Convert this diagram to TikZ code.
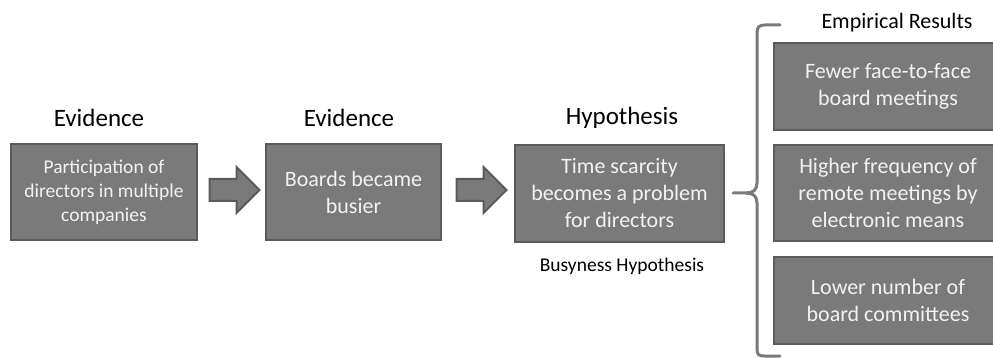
\documentclass[tikz,border=0pt]{standalone}
\usepackage{fontspec}
\setmainfont{Carlito}
\usetikzlibrary{shapes.arrows}

\definecolor{boxfill}{HTML}{7A7A7A}
\definecolor{boxline}{HTML}{5A5A5A}
\definecolor{boxtext}{HTML}{F2F2F2}

\begin{document}
\begin{tikzpicture}[x=1pt, y=-1pt,
                    box/.style={draw=boxline, fill=boxfill, line width=2.2pt,
                                text=boxtext, align=center, inner sep=0,
                                font=\fontsize{22}{27}\selectfont},
                    head/.style={inner sep=0, font=\fontsize{25}{30}\selectfont},
                    blockarrow/.style={single arrow, draw=boxline, fill=boxfill,
                                line width=2pt, inner xsep=0, inner ysep=10pt,
                                minimum height=50pt, minimum width=44pt,
                                single arrow head extend=12pt}]
                \clip (0,0) rectangle (993,358);

                \node (ev1) [box, minimum width=186pt, minimum height=96pt,
                             font=\fontsize{19.5}{24}\selectfont] at (104,192)
                    {Participation of\\directors in multiple\\companies};
                \node (ev2) [box, minimum width=175pt, minimum height=96pt] at (353.5,192)
                    {Boards became\\busier};
                \node (hyp) [box, minimum width=209pt, minimum height=97pt] at (619.5,193.5)
                    {Time scarcity\\becomes a problem\\for directors};

                \node (h1) [head] at (99,118) {Evidence};
                \node (h2) [head] at (349,118) {Evidence};
                \node (h3) [head] at (622,118) {Hypothesis};
                \node (bh) [inner sep=0, font=\fontsize{19.5}{24}\selectfont] at (622,266)
                    {Busyness Hypothesis};

                \node (ar1) [blockarrow] at (229,190) {};
                \node (ar2) [blockarrow] at (476,190) {};

                % results column
                \node (r1) [box, minimum width=228pt, minimum height=87pt] at (888,86.5)
                    {Fewer face-to-face\\board meetings};
                \node (r2) [box, minimum width=228pt, minimum height=96pt] at (888,193)
                    {Higher frequency of\\remote meetings by\\electronic means};
                \node (r3) [box, minimum width=228pt, minimum height=87pt] at (888,300.5)
                    {Lower number of\\board committees};
                \node (er) [inner sep=0, font=\fontsize{22}{27}\selectfont] at (897,23)
                    {Empirical Results};

                \draw [boxfill, line width=3pt, line cap=round]
                    (780,25) -- (765,25) .. controls (759,25) and (757,27) .. (757,33)
                    -- (757,183) .. controls (757,190) and (753,193) .. (746,193)
                    -- (733,193);
                \draw [boxfill, line width=3pt, line cap=round]
                    (746,193) .. controls (753,193) and (757,196) .. (757,203)
                    -- (757,349) .. controls (757,355) and (759,356) .. (765,356)
                    -- (780,356);
            \end{tikzpicture}
\end{document}
